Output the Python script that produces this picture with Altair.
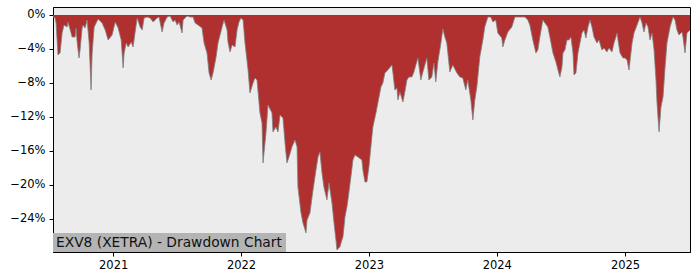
import altair as alt
import pandas as pd
import numpy as np

years = [
    2020.531, 2020.547, 2020.555, 2020.570, 2020.586, 2020.602, 2020.617, 2020.641, 2020.648, 2020.672,
    2020.680, 2020.703, 2020.711, 2020.719, 2020.734, 2020.742, 2020.758, 2020.766, 2020.781, 2020.797,
    2020.813, 2020.828, 2020.836, 2020.852, 2020.883, 2020.914, 2020.938, 2020.961, 2020.992, 2021.016,
    2021.039, 2021.063, 2021.078, 2021.086, 2021.102, 2021.117, 2021.141, 2021.156, 2021.172, 2021.188,
    2021.211, 2021.227, 2021.242, 2021.266, 2021.289, 2021.313, 2021.344, 2021.359, 2021.383, 2021.398,
    2021.422, 2021.445, 2021.469, 2021.484, 2021.500, 2021.516, 2021.539, 2021.547, 2021.578, 2021.602,
    2021.625, 2021.641, 2021.664, 2021.695, 2021.711, 2021.734, 2021.750, 2021.766, 2021.781, 2021.805,
    2021.820, 2021.852, 2021.867, 2021.891, 2021.898, 2021.914, 2021.930, 2021.953, 2021.969, 2021.984,
    2022.000, 2022.016, 2022.031, 2022.055, 2022.070, 2022.094, 2022.109, 2022.125, 2022.148, 2022.164,
    2022.172, 2022.195, 2022.211, 2022.242, 2022.250, 2022.273, 2022.289, 2022.305, 2022.328, 2022.344,
    2022.359, 2022.375, 2022.398, 2022.422, 2022.438, 2022.445, 2022.469, 2022.484, 2022.508, 2022.516,
    2022.539, 2022.563, 2022.586, 2022.602, 2022.617, 2022.633, 2022.648, 2022.672, 2022.688, 2022.711,
    2022.727, 2022.742, 2022.750, 2022.773, 2022.789, 2022.797, 2022.813, 2022.828, 2022.836, 2022.859,
    2022.875, 2022.891, 2022.914, 2022.945, 2022.953, 2022.969, 2022.984, 2023.000, 2023.023, 2023.031,
    2023.055, 2023.070, 2023.094, 2023.109, 2023.125, 2023.148, 2023.180, 2023.188, 2023.203, 2023.219,
    2023.227, 2023.242, 2023.266, 2023.281, 2023.297, 2023.313, 2023.336, 2023.352, 2023.367, 2023.383,
    2023.406, 2023.422, 2023.453, 2023.469, 2023.492, 2023.508, 2023.523, 2023.539, 2023.563, 2023.578,
    2023.594, 2023.609, 2023.633, 2023.656, 2023.688, 2023.711, 2023.734, 2023.758, 2023.773, 2023.797,
    2023.813, 2023.828, 2023.844, 2023.867, 2023.891, 2023.906, 2023.930, 2023.953, 2023.969, 2023.992,
    2024.008, 2024.039, 2024.047, 2024.063, 2024.086, 2024.117, 2024.141, 2024.180, 2024.219, 2024.242,
    2024.258, 2024.281, 2024.305, 2024.320, 2024.336, 2024.359, 2024.375, 2024.398, 2024.414, 2024.438,
    2024.461, 2024.477, 2024.492, 2024.508, 2024.516, 2024.531, 2024.547, 2024.563, 2024.578, 2024.594,
    2024.602, 2024.617, 2024.633, 2024.664, 2024.680, 2024.695, 2024.711, 2024.727, 2024.742, 2024.758,
    2024.781, 2024.797, 2024.820, 2024.836, 2024.859, 2024.875, 2024.898, 2024.914, 2024.938, 2024.945,
    2024.961, 2024.984, 2025.000, 2025.016, 2025.031, 2025.055, 2025.070, 2025.094, 2025.117, 2025.133,
    2025.148, 2025.164, 2025.180, 2025.195, 2025.211, 2025.227, 2025.242, 2025.250, 2025.266, 2025.281,
    2025.297, 2025.313, 2025.328, 2025.352, 2025.375, 2025.391, 2025.406, 2025.422, 2025.445, 2025.453,
    2025.469, 2025.484, 2025.492, 2025.508,
]

# drawdown in percent
drawdown = [
    -0.24, -0.35, -0.94, -4.71, -4.47, -2.12, -1.18, -1.41, -0.82, -2.12,
    -2.59, -2.59, -1.53, -3.18, -5.06, -4.12, -1.53, -1.18, -1.53, -0.59,
    -3.29, -8.82, -4.47, -1.41, -0.47, -0.94, -1.76, -2.94, -2.35, -0.82,
    -1.53, -2.94, -6.24, -4.47, -3.29, -3.76, -3.18, -3.76, -2.00, -0.35,
    -1.41, -1.76, -0.35, -0.24, -0.35, -0.82, -0.35, -0.24, -2.00, -0.94,
    -0.24, -0.12, -0.82, -0.59, -1.18, -0.82, -2.12, -0.59, -0.12, -0.24,
    -0.24, -0.94, -1.18, -1.53, -3.29, -4.47, -6.82, -7.65, -6.82, -4.94,
    -3.29, -1.41, -0.59, -1.76, -3.18, -4.35, -3.53, -3.76, -1.76, -0.82,
    -0.35, -0.59, -3.29, -6.47, -9.18, -8.00, -7.41, -7.65, -11.53, -12.71,
    -17.41, -13.88, -10.59, -11.53, -13.76, -13.18, -13.76, -11.76, -12.12, -15.06,
    -17.41, -16.71, -15.53, -14.71, -15.53, -20.24, -23.29, -24.47, -25.65, -24.12,
    -23.29, -20.59, -18.24, -16.71, -16.12, -18.59, -20.24, -21.76, -19.76, -22.12,
    -24.47, -26.47, -27.65, -27.29, -26.47, -26.12, -23.76, -22.59, -21.76, -19.06,
    -17.06, -16.47, -16.71, -17.06, -18.24, -19.65, -19.65, -17.88, -14.35, -13.18,
    -11.53, -10.35, -8.47, -8.00, -6.82, -6.47, -5.88, -6.82, -8.82, -8.59,
    -10.00, -9.06, -10.24, -9.06, -7.65, -7.29, -7.29, -6.71, -5.88, -5.06,
    -7.65, -6.71, -5.06, -7.65, -7.29, -5.65, -7.88, -5.53, -3.29, -1.65,
    -2.59, -3.29, -6.71, -5.88, -6.82, -7.29, -7.41, -8.82, -7.65, -10.00,
    -12.35, -10.00, -8.47, -4.94, -2.94, -1.41, -0.24, -0.24, -0.82, -0.59,
    -2.12, -2.71, -3.76, -2.94, -2.00, -1.41, -0.24, -0.24, -0.24, -0.59,
    -1.18, -2.94, -4.47, -4.12, -2.59, -0.59, -0.94, -1.41, -2.59, -4.47,
    -5.53, -6.47, -7.29, -6.12, -4.47, -4.12, -2.94, -2.94, -2.59, -4.47,
    -7.06, -6.82, -4.47, -2.12, -1.76, -2.71, -1.41, -0.59, -1.41, -2.59,
    -3.29, -2.94, -4.12, -3.88, -4.35, -3.88, -4.35, -3.29, -2.12, -2.94,
    -4.47, -5.06, -5.06, -5.29, -6.47, -3.29, -2.12, -1.18, -0.24, -0.94,
    -2.00, -0.94, -1.41, -2.94, -2.12, -4.12, -7.65, -10.35, -13.76, -10.82,
    -9.65, -6.12, -3.29, -1.41, -0.24, -0.59, -1.76, -2.35, -2.00, -2.59,
    -4.47, -2.12, -2.00, -1.76,
]

x_range = [2020.531, 2025.508]
y_range = [-27.9, 0.94]
y_ticks = [0, -4, -8, -12, -16, -20, -24]
title_text = "EXV8 (XETRA) - Drawdown Chart"


def to_date(y):
    yr = int(np.floor(y))
    start = pd.Timestamp(year=yr, month=1, day=1)
    end = pd.Timestamp(year=yr + 1, month=1, day=1)
    return (start + (end - start) * (y - yr)).strftime("%Y-%m-%dT%H:%M:%S")


df = pd.DataFrame({
    "date": [to_date(v) for v in years],
    "dd": [v / 100 for v in drawdown],
})

x_enc = alt.X(
    "date:T",
    scale=alt.Scale(domain=[to_date(x_range[0]), to_date(x_range[1])], nice=False),
    axis=alt.Axis(title=None, format="%Y", tickCount={"interval": "year", "step": 1},
                  grid=False, labelFont="DejaVu Sans", labelFontSize=11.5, labelColor="#000",
                  tickColor="#000", tickSize=4, domainColor="#000", labelPadding=3,
                  labelFlush=False),
)
y_scale = alt.Scale(domain=[y_range[0] / 100, y_range[1] / 100], nice=False, zero=False)
y_enc = alt.Y(
    "dd:Q",
    scale=y_scale,
    axis=alt.Axis(title=None, format=".0%", values=[v / 100 for v in y_ticks], grid=False,
                  labelFont="DejaVu Sans", labelFontSize=11.5, labelColor="#000",
                  tickColor="#000", tickSize=4, domainColor="#000", labelPadding=4),
)

area = alt.Chart(df).mark_area(color="#b03030", interpolate="linear", clip=True).encode(
    x=x_enc, y=y_enc, y2=alt.value(0)
)
edge = alt.Chart(df).mark_line(color="#808080", strokeWidth=1, opacity=0.8, clip=True).encode(
    x="date:T", y="dd:Q"
)

label_df = pd.DataFrame({"t": [title_text]})
box = alt.Chart(label_df).mark_rect(color="#b4b4b4").encode(
    x=alt.value(0), x2=alt.value(233), y=alt.value(226), y2=alt.value(245)
)
text = alt.Chart(label_df).mark_text(
    align="left", baseline="middle", font="DejaVu Sans", fontSize=13.8, color="#111"
).encode(x=alt.value(3), y=alt.value(235.5), text="t:N")

chart = alt.layer(area, edge, box, text).properties(
    width=637, height=245,
    autosize=alt.AutoSizeParams(type="none"),
    padding={"left": 53, "top": 7, "right": 10, "bottom": 28},
    background="white",
).configure_view(fill="#ececec", stroke="#000", strokeWidth=1)

chart.save("out.html", embed_options={"renderer": "svg", "actions": False})
